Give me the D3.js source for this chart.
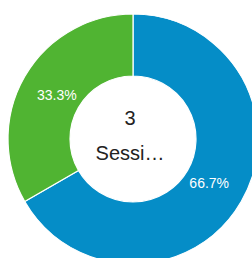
<!DOCTYPE html>
<html>
<head>
<meta charset="utf-8">
<script src="https://cdn.jsdelivr.net/npm/d3@7"></script>
<style>
  html, body { margin: 0; padding: 0; background: #fff; }
  svg { display: block; font-family: Arial, "Liberation Sans", sans-serif; }
</style>
</head>
<body>
<svg id="donut" width="252" height="258"></svg>
<script>
// slices of the donut
var categories = ['New Visitor', 'Returning Visitor'];
var sessions = [2, 1];
var colors = ['#058dc7', '#50b432'];
var centerLines = ['3', 'Sessi\u2026'];

var svg = d3.select('#donut');
var cx = 133, cy = 139;
var outerR = 125, innerR = 63;

var data = categories.map(function (c, i) {
  return { key: c, value: sessions[i] };
});
var total = d3.sum(sessions);

var pie = d3.pie()
  .sort(null)
  .value(function (d) { return d.value; });

var arc = d3.arc()
  .innerRadius(innerR)
  .outerRadius(outerR);

var labelArc = d3.arc()
  .innerRadius(88)
  .outerRadius(88);

var color = d3.scaleOrdinal().domain(categories).range(colors);

var g = svg.append('g')
    .attr('transform', `translate(${cx},${cy})`);

var slices = pie(data);

g.selectAll('path').data(slices)
  .enter().append('path')
    .attr('d', arc)
    .attr('fill', function (d) { return color(d.data.key); })
    .attr('stroke', '#fff')
    .attr('stroke-width', 1.2);

g.selectAll('text.pct').data(slices)
  .enter().append('text')
    .attr('class', 'pct')
    .attr('transform', function (d) { return `translate(${labelArc.centroid(d)})`; })
    .attr('text-anchor', 'middle')
    .attr('dy', '0.35em')
    .attr('fill', '#fff')
    .style('font-size', '14px')
    .text(function (d) { return (d.data.value / total * 100).toFixed(1) + '%'; });

g.selectAll('text.center').data(centerLines)
  .enter().append('text')
    .attr('class', 'center')
    .attr('x', -3)
    .attr('y', function (d, i) { return i === 0 ? -21 : 14; })
    .attr('text-anchor', 'middle')
    .attr('dy', '0.35em')
    .attr('fill', '#222')
    .style('font-size', '20px')
    .text(function (d) { return d; });
</script>
</body>
</html>
